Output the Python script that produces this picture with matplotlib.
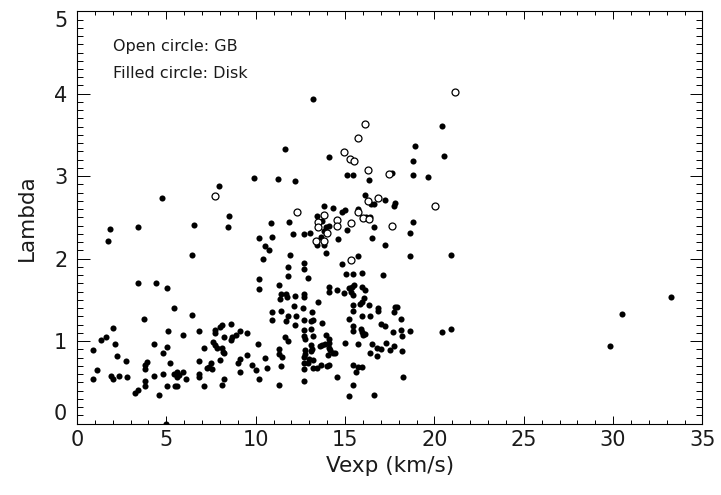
import matplotlib
matplotlib.use('Agg')
import matplotlib.pyplot as plt
from matplotlib.ticker import MultipleLocator

# GB sources (open circles)
gb_vexp = [21.17, 16.12, 15.71, 14.96, 15.26, 15.52, 16.28, 17.44, 16.86, 16.28,
           20.02, 15.70, 12.33, 13.82, 13.50, 14.57, 16.00, 16.32, 15.33, 13.47,
           14.57, 17.63, 13.97, 13.37, 13.82, 15.35, 7.72]
gb_lambda = [4.02, 3.63, 3.46, 3.29, 3.21, 3.18, 3.08, 3.03, 2.73, 2.70,
             2.64, 2.56, 2.56, 2.53, 2.45, 2.47, 2.49, 2.48, 2.43, 2.38,
             2.39, 2.40, 2.31, 2.21, 2.21, 1.98, 2.76]

# Disk sources (filled circles)
disk_vexp = [
    # low Vexp
    0.91, 1.12, 0.91, 1.33, 1.62, 1.72, 1.83, 2.01, 2.13, 2.24,
    1.90, 2.03, 2.33, 2.73, 2.81, 3.23, 3.43, 3.41, 3.41, 3.73,
    3.82, 3.82, 3.92, 3.82, 3.82, 4.33, 4.33, 4.42, 4.61,
    4.74, 7.93, 8.52, 9.92, 8.43, 6.53, 10.17, 6.42, 5.02, 10.17,
    10.17, 5.41, 6.42, 8.62, 8.11, 8.02, 5.11, 6.83, 7.71, 9.12,
    9.51, 5.92, 7.75, 8.23, 8.90, 8.67, 8.62, 7.63, 7.72, 7.82,
    8.11, 8.19, 8.23, 10.11, 5.02, 4.81, 7.12, 9.12, 9.01, 8.02,
    9.53, 9.81, 10.02, 10.17, 5.22, 6.83, 7.50, 7.26, 7.40, 7.54,
    4.81, 5.41, 5.61, 5.71, 5.92, 5.61, 6.12, 6.83, 6.83, 9.12,
    8.23, 8.11, 5.02, 5.50, 5.62, 7.12, 5.00,
    # 10-15 km/s
    13.22, 11.62, 14.12, 11.23, 12.22, 13.82, 14.31, 13.41, 10.83, 11.84,
    13.71, 13.93, 14.12, 13.84, 10.92, 12.10, 12.71, 13.04, 13.64, 14.62,
    13.43, 13.82, 10.52, 10.72, 13.93, 11.92, 10.41, 12.70, 12.70, 11.81,
    11.81, 12.93, 11.32, 14.10, 14.10, 11.42, 11.70, 11.73, 12.22, 12.70,
    12.70, 11.36, 13.50, 12.13, 11.42, 12.66, 10.91, 11.82, 12.24, 13.15,
    10.91, 11.70, 12.70, 13.11, 13.22, 13.71, 12.22, 12.70, 12.72, 12.78,
    13.09, 11.62, 11.82, 13.19, 13.93, 14.10, 14.12, 13.88, 13.69, 13.60,
    11.32, 13.11, 13.15, 13.08, 14.12, 14.16, 12.78, 14.31, 11.32, 11.45,
    12.74, 12.72, 14.03, 13.00, 13.22, 10.52, 12.70, 12.91, 13.64, 13.97,
    14.12, 11.42, 10.62, 13.19, 13.41, 12.70, 14.53, 11.32, 12.70,
    # 14-19 km/s
    18.91, 18.82, 15.13, 15.43, 16.32, 17.63, 18.82, 19.63, 16.12, 17.22,
    16.45, 16.64, 17.81, 17.72, 14.81, 15.01, 15.72, 16.42, 16.17, 16.62,
    18.82, 15.11, 16.53, 18.62, 17.22, 15.71, 18.62, 14.83, 15.03, 15.42,
    15.93, 17.12, 14.53, 14.92, 15.24, 15.39, 15.50, 15.92, 15.46, 15.35,
    16.13, 16.08, 15.94, 15.85, 15.42, 16.34, 15.43, 16.82, 16.84, 17.77,
    17.90, 17.72, 15.92, 16.41, 15.23, 18.13, 15.42, 15.42, 15.91, 15.92,
    15.98, 16.12, 17.01, 17.24, 17.71, 18.11, 18.21, 18.63, 15.01, 15.72,
    16.53, 17.30, 17.72, 16.80, 17.01, 17.53, 16.41, 18.20, 16.80, 14.44,
    15.43, 15.72, 15.95, 15.63, 18.23, 15.42, 15.21, 16.62,
    # high Vexp
    20.43, 20.52, 20.91, 20.91, 20.43, 29.83, 30.51, 33.22,
]
disk_lambda = [
    0.89, 0.65, 0.54, 1.01, 1.05, 2.21, 2.36, 1.16, 0.96, 0.82,
    0.58, 0.54, 0.58, 0.76, 0.56, 0.37, 0.41, 2.38, 1.71, 1.27,
    0.52, 0.45, 0.75, 0.71, 0.66, 0.97, 0.58, 1.70, 0.35,
    2.73, 2.88, 2.52, 2.98, 2.38, 2.41, 2.25, 2.04, 1.64, 1.75,
    1.63, 1.40, 1.32, 1.21, 1.19, 1.17, 1.12, 1.12, 1.13, 1.12,
    1.10, 1.07, 1.10, 1.05, 1.07, 1.05, 1.01, 0.99, 0.95, 0.91,
    0.91, 0.87, 0.85, 0.96, 0.93, 0.85, 0.92, 0.78, 0.74, 0.77,
    0.83, 0.71, 0.65, 0.54, 0.73, 0.76, 0.73, 0.67, 0.68, 0.66,
    0.60, 0.60, 0.63, 0.59, 0.62, 0.56, 0.54, 0.60, 0.57, 0.62,
    0.54, 0.47, 0.45, 0.45, 0.45, 0.45, -0.01,
    3.94, 3.33, 3.23, 2.97, 2.94, 2.64, 2.61, 2.52, 2.43, 2.44,
    2.46, 2.38, 2.40, 2.34, 2.26, 2.30, 2.30, 2.31, 2.26, 2.24,
    2.17, 2.17, 2.15, 2.11, 2.07, 2.05, 2.00, 1.95, 1.88, 1.90,
    1.79, 1.77, 1.68, 1.65, 1.60, 1.57, 1.57, 1.54, 1.55, 1.57,
    1.54, 1.51, 1.47, 1.42, 1.36, 1.40, 1.35, 1.30, 1.30, 1.35,
    1.26, 1.24, 1.25, 1.24, 1.26, 1.22, 1.19, 1.13, 1.06, 1.03,
    1.15, 1.05, 1.00, 1.06, 1.07, 1.02, 0.98, 0.97, 0.95, 0.94,
    0.90, 0.95, 0.90, 0.88, 0.92, 0.89, 0.89, 0.86, 0.84, 0.81,
    0.84, 0.81, 0.83, 0.78, 0.77, 0.79, 0.73, 0.74, 0.71, 0.70,
    0.71, 0.70, 0.67, 0.67, 0.67, 0.66, 0.56, 0.47, 0.51,
    3.36, 3.18, 3.02, 3.01, 2.95, 3.04, 3.02, 2.99, 2.77, 2.71,
    2.66, 2.66, 2.68, 2.64, 2.57, 2.59, 2.60, 2.50, 2.51, 2.38,
    2.45, 2.35, 2.25, 2.31, 2.17, 2.03, 2.03, 1.93, 1.81, 1.81,
    1.82, 1.80, 1.62, 1.58, 1.64, 1.66, 1.68, 1.66, 1.56, 1.60,
    1.62, 1.52, 1.48, 1.45, 1.44, 1.44, 1.36, 1.40, 1.36, 1.41,
    1.41, 1.35, 1.30, 1.31, 1.27, 1.27, 1.18, 1.12, 1.15, 1.11,
    1.07, 1.08, 1.21, 1.18, 1.11, 1.13, 1.06, 1.12, 0.98, 0.97,
    0.97, 0.98, 0.94, 0.92, 0.90, 0.89, 0.86, 0.88, 0.82, 0.86,
    0.71, 0.68, 0.68, 0.63, 0.56, 0.47, 0.33, 0.35,
    3.61, 3.24, 2.04, 1.15, 1.11, 0.94, 1.33, 1.53,
]

x_ticks = [0, 5, 10, 15, 20, 25, 30, 35]
y_ticks = [0, 1, 2, 3, 4, 5]

TEXT_COLOR = '#1a1a1a'
plt.rcParams['font.family'] = ['DejaVu Sans']

fig = plt.figure(figsize=(7.21, 4.95), dpi=100)
ax = fig.add_axes([0.1068, 0.1444, 0.8675, 0.8328])

ax.plot(disk_vexp, disk_lambda, 'o', color='black', markersize=4.4,
        markeredgewidth=0, linestyle='none')
ax.plot(gb_vexp, gb_lambda, 'o', markerfacecolor='white', markeredgecolor='black',
        markersize=5.0, markeredgewidth=0.9, linestyle='none')

ax.set_xlim(0, 35)
ax.set_ylim(0, 5)
ax.set_xticks(x_ticks)
ax.set_yticks(y_ticks)
ax.xaxis.set_minor_locator(MultipleLocator(1))
ax.yaxis.set_minor_locator(MultipleLocator(0.1))

ax.tick_params(axis='both', which='both', direction='in', top=True, right=True,
               colors='black', labelcolor=TEXT_COLOR, labelsize=15, width=0.7)
ax.tick_params(axis='x', which='major', length=6, pad=5)
ax.tick_params(axis='x', which='minor', length=3)
ax.tick_params(axis='y', which='major', length=9, pad=7)
ax.tick_params(axis='y', which='minor', length=4.5)

for s in ax.spines.values():
    s.set_linewidth(0.8)

# end labels kept inside the frame, like the original
ylabels = ax.get_yticklabels()
ylabels[0].set_va('bottom')
ylabels[-1].set_va('top')

ax.set_xlabel('Vexp (km/s)', fontsize=15.5, labelpad=4, color=TEXT_COLOR)
ax.set_ylabel('Lambda', fontsize=15.5, labelpad=12, color=TEXT_COLOR)

ax.text(2.0, 4.57, 'Open circle: GB', fontsize=11.5, ha='left', va='center',
        color=TEXT_COLOR)
ax.text(2.0, 4.25, 'Filled circle: Disk', fontsize=11.5, ha='left', va='center',
        color=TEXT_COLOR)

fig.savefig('out.png', dpi=100)
